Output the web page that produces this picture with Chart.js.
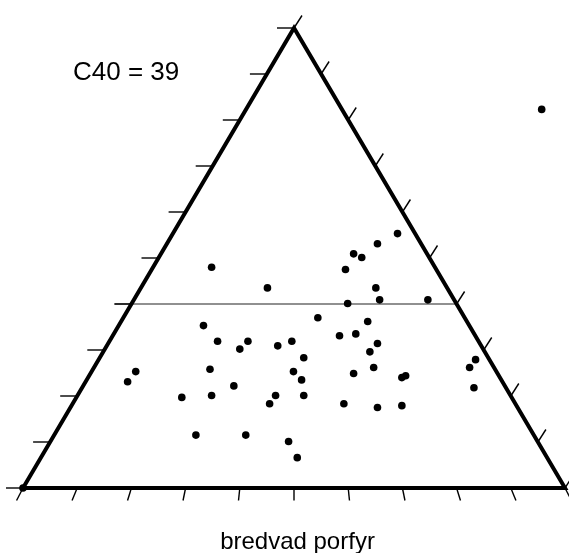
<!DOCTYPE html>
<html>
<head>
<meta charset="utf-8">
<script src="https://cdn.jsdelivr.net/npm/chart.js@4/dist/chart.umd.min.js"></script>
<style>
  html, body { margin: 0; padding: 0; background: #fff; }
  #wrap { position: relative; width: 569px; height: 553px; }
</style>
</head>
<body>
<div id="wrap"><canvas id="c"></canvas></div>
<script>
// Triangle-diagram coordinates: x = 0..100 along the base, y = 0..100 up to the apex
const sampleX = [34.8, 45.1, 33.3, 35.9, 41.5, 40.0, 47.0, 49.6, 20.8, 19.3,
                 34.5, 49.9, 38.9, 34.8, 29.3, 46.6, 45.5, 31.9, 41.1, 49.0,
                 50.6, 69.1, 65.4, 61.0, 62.5, 59.5, 65.1, 59.9, 65.8, 74.7,
                 54.4, 63.6, 58.4, 61.4, 65.4, 64.0, 51.8, 51.4, 51.8, 64.7,
                 61.0, 69.9, 70.6, 59.2, 65.4, 69.9, 83.5, 82.4, 83.2, 95.7, 0];
const sampleY = [48.0, 43.5, 35.3, 31.9, 31.9, 30.2, 30.9, 31.9, 25.3, 23.1,
                 25.8, 25.3, 22.2, 20.1, 19.7, 20.1, 18.3, 11.5, 11.5, 10.1,
                 6.6, 55.3, 53.1, 50.9, 50.1, 47.5, 43.5, 40.1, 40.9, 40.9,
                 37.0, 36.2, 33.1, 33.5, 31.4, 29.6, 28.3, 23.5, 20.1, 26.2,
                 24.9, 24.0, 24.4, 18.3, 17.5, 17.9, 27.9, 26.2, 21.8, 82.3, 0];
const triangleX = [0, 50, 100, 0];
const triangleY = [0, 100, 0, 0];
const levelLineX = [16.9, 80];
const levelLineY = [40, 40];
const tickSteps = [0, 1, 2, 3, 4, 5, 6, 7, 8, 9, 10];
const annotationText = "C40 = 39";
const axisTitle = "bredvad porfyr";

const zip = (xs, ys) => xs.map((x, i) => ({ x: x, y: ys[i] }));

const decorPlugin = {
  id: 'decor',
  afterDatasetsDraw(chart) {
    const ctx = chart.ctx;
    const xs = chart.scales.x, ys = chart.scales.y;
    const px = v => xs.getPixelForValue(v), py = v => ys.getPixelForValue(v);
    const cx = px(50);
    ctx.save();
    ctx.strokeStyle = '#000';
    ctx.lineWidth = 1.4;
    ctx.lineCap = 'butt';
    tickSteps.forEach(i => {
      // left side: horizontal ticks pointing left
      let x0 = px(5 * i), y0 = py(10 * i);
      ctx.beginPath(); ctx.moveTo(x0, y0); ctx.lineTo(x0 - 17, y0); ctx.stroke();
      // right side: ticks up-right
      x0 = px(100 - 5 * i); y0 = py(10 * i);
      ctx.beginPath(); ctx.moveTo(x0, y0); ctx.lineTo(x0 + 8, y0 - 12.5); ctx.stroke();
      // base: ticks fanning downward
      x0 = px(10 * i); y0 = py(0);
      const dy = 12.5, dx = (x0 - cx) * 0.0019 * dy;
      ctx.beginPath(); ctx.moveTo(x0, y0); ctx.lineTo(x0 + dx, y0 + dy); ctx.stroke();
    });
    ctx.fillStyle = '#000';
    ctx.textBaseline = 'alphabetic';
    ctx.font = '26px "Liberation Sans", Arial, sans-serif';
    ctx.textAlign = 'left';
    ctx.fillText(annotationText, 73, 80);
    ctx.font = '24px "Liberation Sans", Arial, sans-serif';
    ctx.textAlign = 'center';
    ctx.fillText(axisTitle, 297.5, 549);
    ctx.restore();
  }
};

new Chart(document.getElementById('c'), {
  type: 'scatter',
  data: {
    datasets: [
      {
        data: zip(triangleX, triangleY),
        showLine: true,
        borderColor: '#000',
        borderWidth: 4,
        borderJoinStyle: 'miter',
        pointRadius: 0,
        clip: false,
        order: 2
      },
      {
        data: zip(levelLineX, levelLineY),
        showLine: true,
        borderColor: '#222',
        borderWidth: 1.2,
        pointRadius: 0,
        clip: false,
        order: 3
      },
      {
        data: zip(sampleX, sampleY),
        showLine: false,
        pointRadius: 3.8,
        pointBackgroundColor: '#000',
        pointBorderWidth: 0,
        borderColor: '#000',
        clip: false,
        order: 1
      }
    ]
  },
  options: {
    responsive: true,
    maintainAspectRatio: false,
    animation: false,
    layout: { padding: { left: 23, right: 4, top: 28, bottom: 65 } },
    plugins: { legend: { display: false }, tooltip: { enabled: false }, title: { display: false } },
    scales: {
      x: { type: 'linear', min: 0, max: 100, display: false },
      y: { type: 'linear', min: 0, max: 100, display: false }
    }
  },
  plugins: [decorPlugin]
});
</script>
</body>
</html>
